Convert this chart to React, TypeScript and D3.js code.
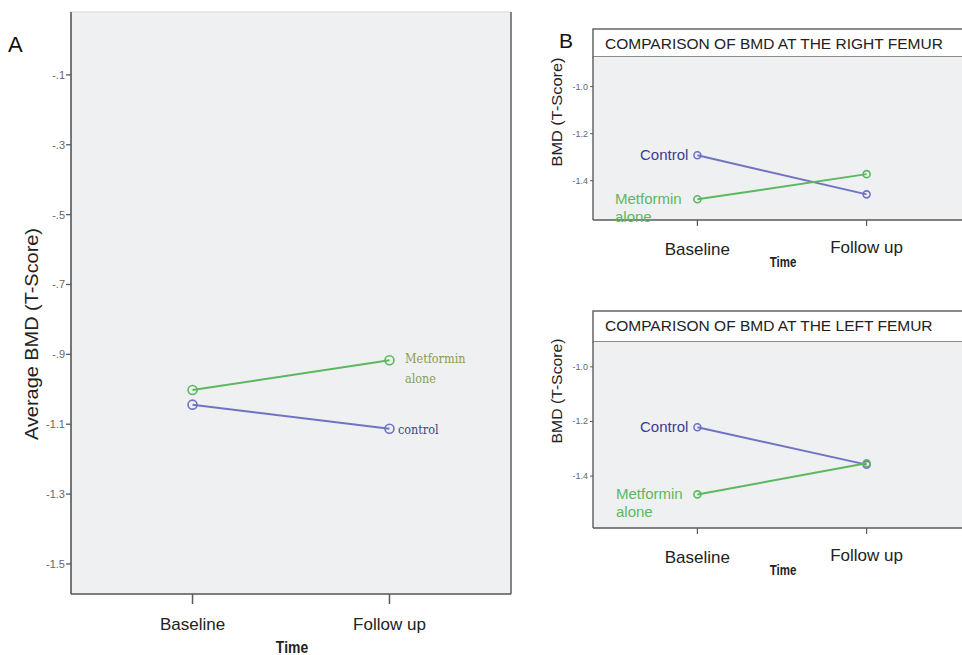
import * as d3 from 'd3';

const timePoints = ['Baseline', 'Follow up'];

// Panel A: average BMD
const avgControl = [-1.044, -1.113];
const avgMetformin = [-1.002, -0.917];
const avgTicks = [-0.1, -0.3, -0.5, -0.7, -0.9, -1.1, -1.3, -1.5];
const avgTickLabels = ['-.1', '-.3', '-.5', '-.7', '-.9', '-1.1', '-1.3', '-1.5'];

// Panel B: femur
const rightControl = [-1.292, -1.458];
const rightMetformin = [-1.479, -1.372];
const leftControl = [-1.221, -1.358];
const leftMetformin = [-1.467, -1.353];
const femurTicks = [-1.0, -1.2, -1.4];
const femurTickLabels = ['-1.0', '-1.2', '-1.4'];

const GREEN = '#5cb85f';
const BLUE = '#6f73c2';
const PLOT_BG = '#eff0f2';
const AXIS = '#5a5a5a';
const SANS = 'Liberation Sans, Arial, sans-serif';
const SERIF = 'DejaVu Serif Condensed, DejaVu Serif, serif';

const Series = ({ x, y, values, color, r }) => {
  const line = d3.line<number>()
    .x((_, i) => x(timePoints[i]))
    .y(d => y(d));
  return (
    <g>
      <path d={line(values) || ''} fill="none" stroke={color} strokeWidth={2} />
      {values.map((v, i) => (
        <circle key={i} cx={x(timePoints[i])} cy={y(v)} r={r}
          fill="none" stroke={color} strokeWidth={1.6} />
      ))}
    </g>
  );
};

// condensed bold "Time" label
const TimeLabel = ({ cx, cy, size }) => (
  <text transform={`translate(${cx},${cy}) scale(0.82,1)`} textAnchor="middle" fontFamily={SANS}
    fontWeight="bold" fontSize={size} fill="#222">Time</text>
);

const PanelA = () => {
  const left = 71, right = 511, top = 12, bottom = 594;
  const x = d3.scalePoint().domain(timePoints).range([left, right]).padding(0.617);
  const y = d3.scaleLinear().domain([-1.586, 0.08]).range([bottom, top]);
  return (
    <g>
      <text x={8} y={52} fontFamily={SANS} fontSize={22} fill="#111">A</text>
      <rect x={left} y={top} width={right - left} height={bottom - top}
        fill={PLOT_BG} stroke="#d6d6d6" />
      <line x1={left} x2={left} y1={top} y2={bottom} stroke={AXIS} strokeWidth={1.6} />
      <line x1={right} x2={right} y1={top} y2={bottom} stroke={AXIS} strokeWidth={1.4} />
      <line x1={left} x2={right} y1={bottom} y2={bottom} stroke={AXIS} strokeWidth={1.6} />
      {avgTicks.map((t, i) => (
        <g key={t}>
          <line x1={left - 5} x2={left} y1={y(t)} y2={y(t)} stroke={AXIS} strokeWidth={1.3} />
          <text x={left - 6} y={y(t) + 4} textAnchor="end" fontFamily={SANS}
            fontSize={11} fill="#666">{avgTickLabels[i]}</text>
        </g>
      ))}
      {timePoints.map(t => (
        <g key={t}>
          <line x1={x(t)} x2={x(t)} y1={bottom} y2={bottom + 10} stroke={AXIS} strokeWidth={1.5} />
          <text x={x(t)} y={630} textAnchor="middle" fontFamily={SANS} fontSize={17} fill="#222">{t}</text>
        </g>
      ))}
      <TimeLabel cx={292} cy={653} size={17} />
      <text transform={`translate(38,334) rotate(-90)`} textAnchor="middle" fontFamily={SANS}
        fontSize={19} textLength={212} lengthAdjust="spacingAndGlyphs" fill="#222">Average BMD (T-Score)</text>
      <Series x={x} y={y} values={avgControl} color={BLUE} r={4.5} />
      <Series x={x} y={y} values={avgMetformin} color={GREEN} r={4.5} />
      <text x={405} y={363} fontFamily={SERIF} fontSize={12.5} fill="#8c9c52">Metformin</text>
      <text x={405} y={383} fontFamily={SERIF} fontSize={12.5} fill="#8c9c52">alone</text>
      <text x={398} y={434} fontFamily={SERIF} fontSize={12.5} fill="#3d4a7a">control</text>
    </g>
  );
};

const FemurPanel = ({ title, boxTop, top, bottom, domain, control, metformin, yTitleY, yTitleLen, labels }) => {
  const left = 593, right = 971;
  const x = d3.scalePoint().domain(timePoints).range([left, right]).padding(0.617);
  const y = d3.scaleLinear().domain(domain).range([bottom, top]);
  const bx = x(timePoints[0]);
  return (
    <g>
      <rect x={left} y={boxTop} width={right - left} height={top - boxTop}
        fill="#fff" stroke={AXIS} strokeWidth={1.4} />
      <text x={left + 12} y={boxTop + 20} fontFamily={SANS} fontSize={15.5} fill="#222">{title}</text>
      <rect x={left} y={top} width={right - left} height={bottom - top} fill={PLOT_BG} />
      <line x1={left} x2={left} y1={top} y2={bottom} stroke={AXIS} strokeWidth={1.4} />
      <line x1={left} x2={right} y1={bottom} y2={bottom} stroke={AXIS} strokeWidth={1.4} />
      {femurTicks.map((t, i) => (
        <g key={t}>
          <line x1={left - 3} x2={left} y1={y(t)} y2={y(t)} stroke={AXIS} />
          <text x={left - 5} y={y(t) + 3} textAnchor="end" fontFamily={SANS}
            fontSize={9} fill="#666">{femurTickLabels[i]}</text>
        </g>
      ))}
      {timePoints.map((t, i) => (
        <g key={t}>
          <line x1={x(t)} x2={x(t)} y1={bottom} y2={bottom + 6} stroke={AXIS} strokeWidth={1.2} />
          <text x={x(t)} y={bottom + (i === 0 ? 35 : 33)} textAnchor="middle" fontFamily={SANS}
            fontSize={17} fill="#222">{t}</text>
        </g>
      ))}
      <TimeLabel cx={783} cy={bottom + 47} size={14} />
      <text transform={`translate(562,${yTitleY}) rotate(-90)`} textAnchor="middle" fontFamily={SANS}
        fontSize={15} textLength={yTitleLen} lengthAdjust="spacingAndGlyphs" fill="#222">BMD (T-Score)</text>
      <Series x={x} y={y} values={control} color={BLUE} r={3.5} />
      <Series x={x} y={y} values={metformin} color={GREEN} r={3.5} />
      <text x={bx - 9} y={y(control[0]) + 5} textAnchor="end" fontFamily={SANS} fontSize={15}
        fill="#3b3b96">Control</text>
      <text x={labels} y={y(metformin[0]) + 5} fontFamily={SANS} fontSize={15} fill={GREEN}>Metformin</text>
      <text x={labels} y={y(metformin[0]) + 23} fontFamily={SANS} fontSize={15} fill={GREEN}>alone</text>
    </g>
  );
};

export default function App() {
  return (
    <svg width={962} height={655} style={{ position: 'absolute', left: 0, top: 0, background: '#fff' }}>
      <PanelA />
      <text x={559} y={48} fontFamily={SANS} fontSize={21} fill="#111">B</text>
      <FemurPanel title="COMPARISON OF BMD AT THE RIGHT FEMUR" boxTop={29} top={57} bottom={220}
        domain={[-1.567, -0.874]} control={rightControl} metformin={rightMetformin}
        yTitleY={112} yTitleLen={109} labels={615} />
      <FemurPanel title="COMPARISON OF BMD AT THE LEFT FEMUR" boxTop={311} top={342} bottom={528}
        domain={[-1.59, -0.909]} control={leftControl} metformin={leftMetformin}
        yTitleY={391} yTitleLen={105} labels={616} />
    </svg>
  );
}
